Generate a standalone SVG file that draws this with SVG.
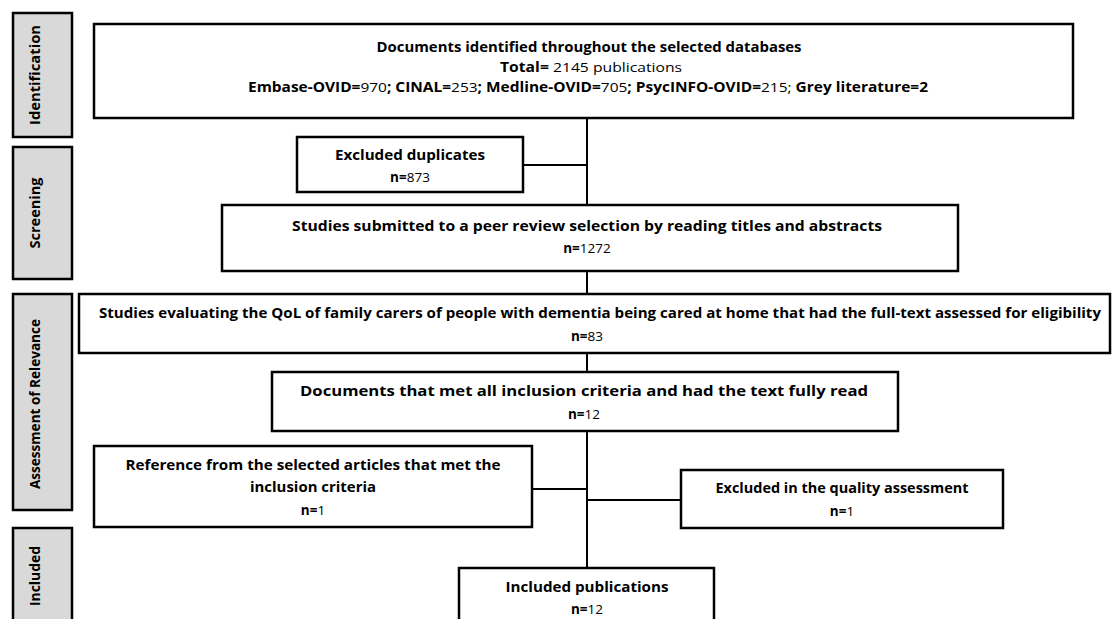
<svg xmlns="http://www.w3.org/2000/svg" width="1112" height="619" viewBox="0 0 1112 619">
<style>
.box{fill:#fff;stroke:#000;stroke-width:2.5}
.lab{fill:#d9d9d9;stroke:#000;stroke-width:2.5}
.conn line{stroke:#000;stroke-width:2}
text{font-family:"Open Sans","Liberation Sans",sans-serif;font-size:13.5px;fill:#000;text-anchor:middle}
.b{font-weight:bold}
.v{font-weight:bold;font-size:14px}
</style>
<rect width="1112" height="619" fill="#fff"/>
<g id="stage-identification"><rect class="lab" x="13" y="13" width="59" height="124"/><text class="v" transform="translate(40,75) rotate(-90)" textLength="100" lengthAdjust="spacingAndGlyphs">Identification</text></g>
<g id="stage-screening"><rect class="lab" x="13" y="147" width="59" height="132"/><text class="v" transform="translate(40,213) rotate(-90)" textLength="71" lengthAdjust="spacingAndGlyphs">Screening</text></g>
<g id="stage-relevance"><rect class="lab" x="13" y="294" width="59" height="216"/><text class="v" transform="translate(40,404) rotate(-90)" textLength="170" lengthAdjust="spacingAndGlyphs">Assessment of Relevance</text></g>
<g id="stage-included"><rect class="lab" x="13" y="528" width="59" height="100"/><text class="v" transform="translate(40,576) rotate(-90)" textLength="60" lengthAdjust="spacingAndGlyphs">Included</text></g>
<g class="conn" id="connectors">
<line x1="587" y1="118" x2="587" y2="205"/>
<line x1="523" y1="165" x2="587" y2="165"/>
<line x1="587" y1="271" x2="587" y2="294"/>
<line x1="587" y1="353" x2="587" y2="372"/>
<line x1="587" y1="431" x2="587" y2="568"/>
<line x1="532" y1="489" x2="587" y2="489"/>
<line x1="587" y1="500" x2="681" y2="500"/>
</g>
<g id="n-identified"><rect class="box" x="94" y="24" width="979" height="94"/>
<text x="589" y="52" class="b" textLength="425" lengthAdjust="spacingAndGlyphs">Documents identified throughout the selected databases</text>
<text x="591" y="72" textLength="182" lengthAdjust="spacingAndGlyphs"><tspan class="b">Total=</tspan> 2145 publications</text>
<text x="588" y="92" textLength="680" lengthAdjust="spacingAndGlyphs"><tspan class="b">Embase-OVID=</tspan>970<tspan class="b">; CINAL=</tspan>253<tspan class="b">; Medline-OVID=</tspan>705<tspan class="b">; PsycINFO-OVID=</tspan>215; <tspan class="b">Grey literature=2</tspan></text></g>
<g id="n-duplicates"><rect class="box" x="297" y="137" width="226" height="55"/>
<text x="410" y="160" class="b" textLength="150" lengthAdjust="spacingAndGlyphs">Excluded duplicates</text>
<text x="410" y="182"><tspan class="b">n=</tspan>873</text></g>
<g id="n-screening"><rect class="box" x="222" y="205" width="736" height="66"/>
<text x="587" y="231" class="b" textLength="590" lengthAdjust="spacingAndGlyphs">Studies submitted to a peer review selection by reading titles and abstracts</text>
<text x="587" y="253"><tspan class="b">n=</tspan>1272</text></g>
<g id="n-fulltext"><rect class="box" x="79" y="294" width="1031" height="59"/>
<text x="600" y="318" class="b" textLength="1002" lengthAdjust="spacingAndGlyphs">Studies evaluating the QoL of family carers of people with dementia being cared at home that had the full-text assessed for eligibility</text>
<text x="587" y="341"><tspan class="b">n=</tspan>83</text></g>
<g id="n-read"><rect class="box" x="272" y="372" width="626" height="59"/>
<text x="584" y="396" class="b" textLength="568" lengthAdjust="spacingAndGlyphs">Documents that met all inclusion criteria and had the text fully read</text>
<text x="584" y="419"><tspan class="b">n=</tspan>12</text></g>
<g id="n-reference"><rect class="box" x="94" y="446" width="438" height="81"/>
<text x="313" y="470" class="b" textLength="375" lengthAdjust="spacingAndGlyphs">Reference from the selected articles that met the</text>
<text x="313" y="492" class="b" textLength="126" lengthAdjust="spacingAndGlyphs">inclusion criteria</text>
<text x="313" y="515"><tspan class="b">n=</tspan>1</text></g>
<g id="n-quality"><rect class="box" x="681" y="470" width="322" height="58"/>
<text x="842" y="493" class="b" textLength="253" lengthAdjust="spacingAndGlyphs">Excluded in the quality assessment</text>
<text x="842" y="516"><tspan class="b">n=</tspan>1</text></g>
<g id="n-included"><rect class="box" x="459" y="568" width="255" height="60"/>
<text x="587" y="592" class="b" textLength="163" lengthAdjust="spacingAndGlyphs">Included publications</text>
<text x="587" y="614"><tspan class="b">n=</tspan>12</text></g>
</svg>
